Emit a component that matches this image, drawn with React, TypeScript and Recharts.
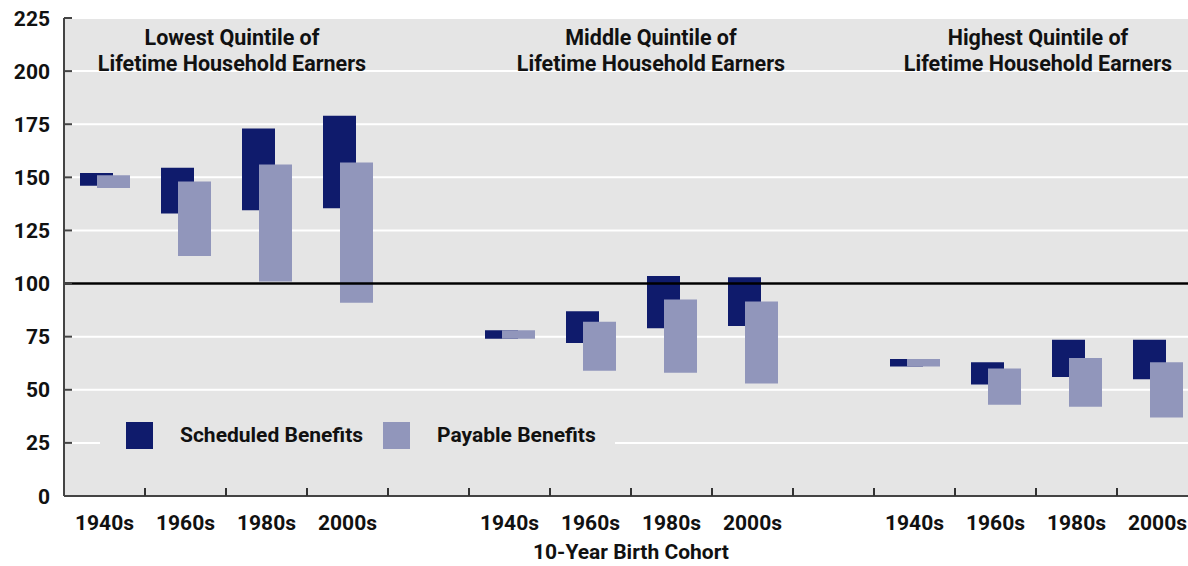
import {
  BarChart,
  Bar,
  XAxis,
  YAxis,
  CartesianGrid,
  ReferenceLine,
  Legend,
  Label,
} from "recharts";

const cohorts = [
  "1940s", "1960s", "1980s", "2000s", "",
  "1940s", "1960s", "1980s", "2000s", "",
  "1940s", "1960s", "1980s", "2000s",
];

const scheduledHigh = [152, 154.5, 173, 179, null, 78, 87, 103.5, 103, null, 64.5, 63, 73.5, 73.5];
const scheduledLow = [146, 133, 134.5, 135.5, null, 74, 72, 79, 80, null, 61, 52.5, 56, 55];
const payableHigh = [151, 148, 156, 157, null, 78, 82, 92.5, 91.5, null, 64.5, 60, 65, 63];
const payableLow = [145, 113, 101, 91, null, 74, 59, 58, 53, null, 61, 43, 42, 37];

const yTicks = [0, 25, 50, 75, 100, 125, 150, 175, 200, 225];

const panelTitles = [
  ["Lowest Quintile of", "Lifetime Household Earners"],
  ["Middle Quintile of", "Lifetime Household Earners"],
  ["Highest Quintile of", "Lifetime Household Earners"],
];

const seriesNames = ["Scheduled Benefits", "Payable Benefits"];

const W = 1198;
const H = 566;
const AXIS_W = 64;
const BAND = (W - AXIS_W) / cohorts.length;
const FONT = "Roboto, 'Open Sans', sans-serif";
const FS = 21;
const TEXT = "#111";
const DARK = "#0f1b6c";
const LIGHT = "#9196bb";
const BG = "#e5e5e5";

const data = cohorts.map((c, i) => ({
  cohort: c,
  scheduled: scheduledLow[i] == null ? null : [scheduledLow[i], scheduledHigh[i]],
  payable: payableLow[i] == null ? null : [payableLow[i], payableHigh[i]],
}));

function CohortTick(props: any) {
  const { x, y, payload, index } = props;
  const left = x - BAND / 2;
  return (
    <g>
      {index > 0 && (
        <line x1={left} x2={left} y1={y - 8} y2={y} stroke="#333" strokeWidth={2} />
      )}
      <text
        x={x}
        y={y + 34}
        textAnchor="middle"
        fontFamily={FONT}
        fontWeight={700}
        fontSize={FS}
        fill={TEXT}
      >
        {payload.value}
      </text>
    </g>
  );
}

function ValueTick(props: any) {
  const { x, y, payload } = props;
  return (
    <g>
      <line x1={x} x2={x + 8} y1={y} y2={y} stroke="#444" strokeWidth={2} />
      <text
        x={x - 14}
        y={y}
        dy="0.36em"
        textAnchor="end"
        fontFamily={FONT}
        fontWeight={700}
        fontSize={FS}
        fill={TEXT}
      >
        {payload.value}
      </text>
    </g>
  );
}

function LegendBox() {
  const colors = [DARK, LIGHT];
  return (
    <div
      style={{
        display: "flex",
        alignItems: "center",
        height: 46,
        width: 515,
        background: BG,
        paddingLeft: 26,
        boxSizing: "border-box",
        fontFamily: FONT,
        fontWeight: 700,
        fontSize: FS,
        color: TEXT,
      }}
    >
      {seriesNames.map((name, i) => (
        <div key={name} style={{ display: "flex", alignItems: "center", marginLeft: i ? 20 : 0 }}>
          <div style={{ width: 27, height: 27, background: colors[i], marginRight: 27 }} />
          <span>{name}</span>
        </div>
      ))}
    </div>
  );
}

const titleCenters = [232, 651, 1038];

export default function App() {
  return (
    <div style={{ position: "absolute", left: 0, top: 0, width: 1188, height: H, overflow: "hidden", background: "#fff" }}>
      <BarChart
        width={W}
        height={H}
        data={data}
        margin={{ top: 18, right: 0, bottom: 0, left: 0 }}
        barSize={33}
        barGap={-16}
      >
        <CartesianGrid horizontal vertical={false} stroke="#fff" strokeWidth={2} fill={BG} />
        <XAxis
          dataKey="cohort"
          height={70}
          interval={0}
          tickSize={0}
          tickMargin={0}
          tick={<CohortTick />}
          axisLine={{ stroke: "#444", strokeWidth: 2 }}
        >
          <Label
            value="10-Year Birth Cohort"
            position="insideBottom"
            offset={7}
            style={{ fontFamily: FONT, fontWeight: 700, fontSize: FS, fill: TEXT }}
          />
        </XAxis>
        <YAxis
          width={AXIS_W}
          domain={[0, 225]}
          ticks={yTicks}
          interval={0}
          tickSize={0}
          tickMargin={0}
          tick={<ValueTick />}
          axisLine={{ stroke: "#444", strokeWidth: 2 }}
        />
        <Legend
          layout="horizontal"
          verticalAlign="middle"
          content={<LegendBox />}
          wrapperStyle={{ position: "absolute", left: 100, top: 412, width: 515, height: 46 }}
        />
        <Bar dataKey="scheduled" name={seriesNames[0]} fill={DARK} isAnimationActive={false} />
        <Bar dataKey="payable" name={seriesNames[1]} fill={LIGHT} isAnimationActive={false} />
        <ReferenceLine y={100} stroke="#000" strokeWidth={2.5} />
      </BarChart>
      <svg
        width={1188}
        height={90}
        style={{ position: "absolute", left: 0, top: 0, pointerEvents: "none" }}
      >
        {panelTitles.map((lines, i) =>
          lines.map((t, j) => (
            <text
              key={`${i}-${j}`}
              x={titleCenters[i]}
              y={45 + j * 26}
              textAnchor="middle"
              fontFamily={FONT}
              fontWeight={700}
              fontSize={21.5}
              fill={TEXT}
            >
              {t}
            </text>
          ))
        )}
      </svg>
    </div>
  );
}
